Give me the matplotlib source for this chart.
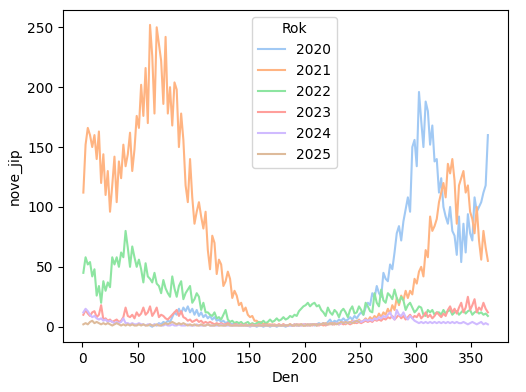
import numpy as np
import pandas as pd
import seaborn as sns
import matplotlib
matplotlib.use("Agg")
import matplotlib.pyplot as plt

# values, every second day (odd days)
start_day = {"2020": 61, "2021": 1, "2022": 1, "2023": 1, "2024": 1, "2025": 1}

y2020 = [1, 0, 2, 1, 3, 2, 4, 3, 5, 4,
         8, 12, 10, 15, 11, 16, 13, 17, 12, 15, 10, 14, 9, 12, 8, 10, 7, 9, 6, 8,
         5, 6, 4, 5, 3, 4, 3, 2, 3, 2, 2, 1, 2, 1, 1, 2, 1, 1, 0, 1, 1, 0, 1, 1, 0,
         1, 1, 0, 1, 1, 1, 0, 1, 1, 1, 2, 1, 1, 2, 1, 2, 1, 2, 2, 1, 2, 3, 2, 3, 2,
         4, 6, 3, 5, 4, 6, 5, 7, 5, 6, 8, 6, 9, 7, 10,
         12, 10, 16, 20, 18, 28, 24, 34, 28, 25, 45, 40, 38, 52, 48, 62, 78, 84, 72, 88,
         98, 108, 96, 150, 156, 134, 196, 172, 150, 188, 180, 152, 168, 138, 140, 112,
         124, 100, 92, 86, 100, 80, 76, 60, 92, 54, 86, 62, 94, 78, 72, 108, 96, 100,
         104, 112, 118, 160]

y2021 = [112, 152, 166, 160, 150, 160, 140, 163, 120, 144, 110, 130, 96, 118, 142,
         104, 138, 124, 152, 134, 144, 162, 130, 148, 176, 166, 202, 176, 216, 170,
         252, 226, 178, 250, 236, 222, 186, 242, 178, 200, 168,
         204, 198, 150, 178, 156, 118, 104, 140, 108, 86, 96, 104, 92, 82, 96, 64, 48,
         76, 70, 44, 56, 52, 34, 38, 46, 40, 24, 30, 26, 18, 20, 13, 16, 10, 8, 9, 5, 5, 3,
         4, 2, 3, 2, 2, 1, 2, 1, 2, 1, 2, 1, 1, 2, 1, 1, 2, 1, 2, 1, 1, 2, 1, 2, 2, 1,
         2, 2, 1, 3, 2, 2, 3, 2, 3, 2, 4, 3, 2, 4, 3, 5, 3, 4, 6, 4, 5, 7, 5, 8,
         6, 9, 7, 11, 8, 12, 10, 15, 11, 18, 14, 24, 18, 26, 22, 30, 24, 30, 27, 40,
         36, 46, 50, 42, 64, 58, 92, 80, 84, 90, 104, 112, 120, 108, 136, 128, 140, 122,
         86, 118, 124, 130, 112, 118, 96, 90, 78, 100, 72, 56, 80, 66, 55]

y2022 = [45, 58, 52, 54, 42, 48, 26, 34, 20, 38, 30, 37, 33, 58, 52, 58, 50, 62, 58,
         80, 66, 50, 67, 58, 50, 56, 48, 37, 53, 42,
         40, 37, 45, 36, 34, 28, 39, 32, 28, 25, 42, 32, 25, 34, 38, 23, 28, 31, 34, 20,
         23, 28, 25, 14, 20, 12, 12, 10, 9, 12, 7, 8, 6, 10, 14,
         6, 4, 5, 3, 4, 3, 4, 2, 3, 4, 2, 3, 2, 3, 4, 3, 5, 3, 4, 6, 4, 5, 7, 5, 6, 8,
         6, 7, 9, 8, 10, 9,
         13, 15, 17, 18, 20, 17, 19, 20, 17, 18, 14, 12, 9, 16, 12, 10, 14, 12, 8, 13,
         15, 12, 8, 14, 17, 11, 12, 17, 14, 10, 20, 17, 13,
         12, 28, 20, 17, 31, 22, 20, 28, 26, 23, 31, 24, 20, 25, 22, 14, 18, 20, 16, 12,
         14, 17, 16, 10, 9, 14, 12, 14, 10, 12, 12, 10, 14, 11, 13, 14, 10, 12, 13, 10,
         12, 14, 11, 13, 14, 10, 12, 13, 11, 12, 10, 11, 9]

y2023 = [10, 14, 11, 9, 12, 13, 8, 10, 18, 6, 7, 5, 6, 4, 5, 6, 4, 5, 8, 16,
         9, 8, 10, 7, 12, 9, 11, 16, 10, 12, 17, 9, 12, 16, 8, 10, 9, 7, 6, 8, 10, 12,
         14, 9, 13, 8, 7, 5, 6, 4, 5, 6, 4, 5, 3, 4,
         3, 4, 3, 2, 3, 2, 3, 2, 2, 3, 2, 1, 2, 2, 1, 2, 1, 2, 1, 1, 2, 1, 1, 2, 1, 1,
         2, 1, 1, 2, 1, 1, 2, 1, 2, 1, 1, 2, 1, 2, 1, 2, 1, 2, 2, 1, 2, 1, 2, 2, 1, 2,
         2, 1, 2, 3, 2, 2, 3, 2, 3, 2, 3, 3, 2, 3, 4, 3, 4, 3, 4, 5, 4, 5, 4, 6, 5, 6,
         5, 7,
         6, 8, 7, 9, 6, 8, 10, 7, 9, 6, 8, 10, 7, 9, 8, 11, 7, 9, 12, 8, 10, 7, 9, 12,
         10, 8, 11, 9, 14, 17, 12, 15, 11, 16, 20, 12, 16, 25, 14, 18, 23, 12, 16, 14,
         20, 15, 12]

y2024 = [12, 15, 13, 10, 8, 9, 7, 6, 7, 5, 6, 4, 5, 4, 3, 4, 3, 4, 7, 3,
         3, 2, 3, 2, 2, 3, 2, 2, 1, 2, 2, 1, 2, 1, 2, 1, 1, 2, 1, 1, 2, 1, 1, 2, 1, 1,
         1, 2, 1, 1, 1, 2, 1, 1, 1, 1, 2, 1, 1, 1, 1, 1, 2, 1, 1, 1, 1, 1, 1, 1, 1, 1,
         1, 1, 1, 0, 1, 1, 1, 1, 1, 1, 1, 1, 1, 1, 1, 1, 1, 1, 1, 1, 1, 1, 1, 1, 2, 1,
         1, 2, 1, 2, 1, 2, 2, 1, 2, 2, 3, 2, 2, 3, 2, 3, 3, 2, 3, 4, 3, 4, 3, 4, 5, 4,
         5, 4, 5, 6, 5, 6,
         5, 7, 6, 8, 7, 9, 8, 10, 12, 8, 6, 14, 10, 9, 12, 8, 6, 9, 7, 5, 4, 3, 4, 3,
         4, 3, 4, 3, 4, 3, 4, 3, 4, 3, 4, 3, 4, 3, 4, 3, 3, 4, 3, 2, 3, 4, 3, 2, 3, 4,
         2, 3, 2]

y2025 = [2, 3, 2, 4, 5, 3, 4, 3, 2, 3, 2, 3, 2, 1, 2, 3, 2, 1, 2, 1, 2, 1, 2, 1, 1,
         2, 1, 2, 1, 1, 2, 1, 1, 2, 1, 1, 2, 3, 2, 3, 4, 3, 2, 3, 2, 3, 2, 1, 2, 1, 2,
         1, 1, 2, 1, 1, 2, 1, 1, 1, 2, 1, 1, 1, 1, 2, 1, 1, 1, 1, 1, 1, 1, 1, 1, 1, 1,
         1, 1, 1, 1, 1, 1, 1, 1, 1, 1, 1, 1, 1, 1, 1, 1, 2, 1, 1, 2, 1, 2, 1, 1, 2, 1,
         2, 2, 1, 2, 2, 3, 2, 2, 3, 2, 3, 2, 3, 4, 3, 4, 3, 4, 3, 4, 5, 4]

series = {"2020": y2020, "2021": y2021, "2022": y2022,
          "2023": y2023, "2024": y2024, "2025": y2025}

rows = []
for rok, vals in series.items():
    d0 = start_day[rok]
    for i, v in enumerate(vals):
        rows.append({"Den": d0 + 2 * i, "nove_jip": v, "Rok": rok})
df = pd.DataFrame(rows)

fig, ax = plt.subplots(figsize=(5.26, 3.92), dpi=100)
sns.lineplot(data=df, x="Den", y="nove_jip", hue="Rok",
             hue_order=list(series.keys()), palette="pastel", ax=ax)
ax.legend(title="Rok", loc="upper center", bbox_to_anchor=(0.52, 1.0))
fig.subplots_adjust(left=0.12, right=0.966, top=0.975, bottom=0.128)
fig.savefig("out.png")
